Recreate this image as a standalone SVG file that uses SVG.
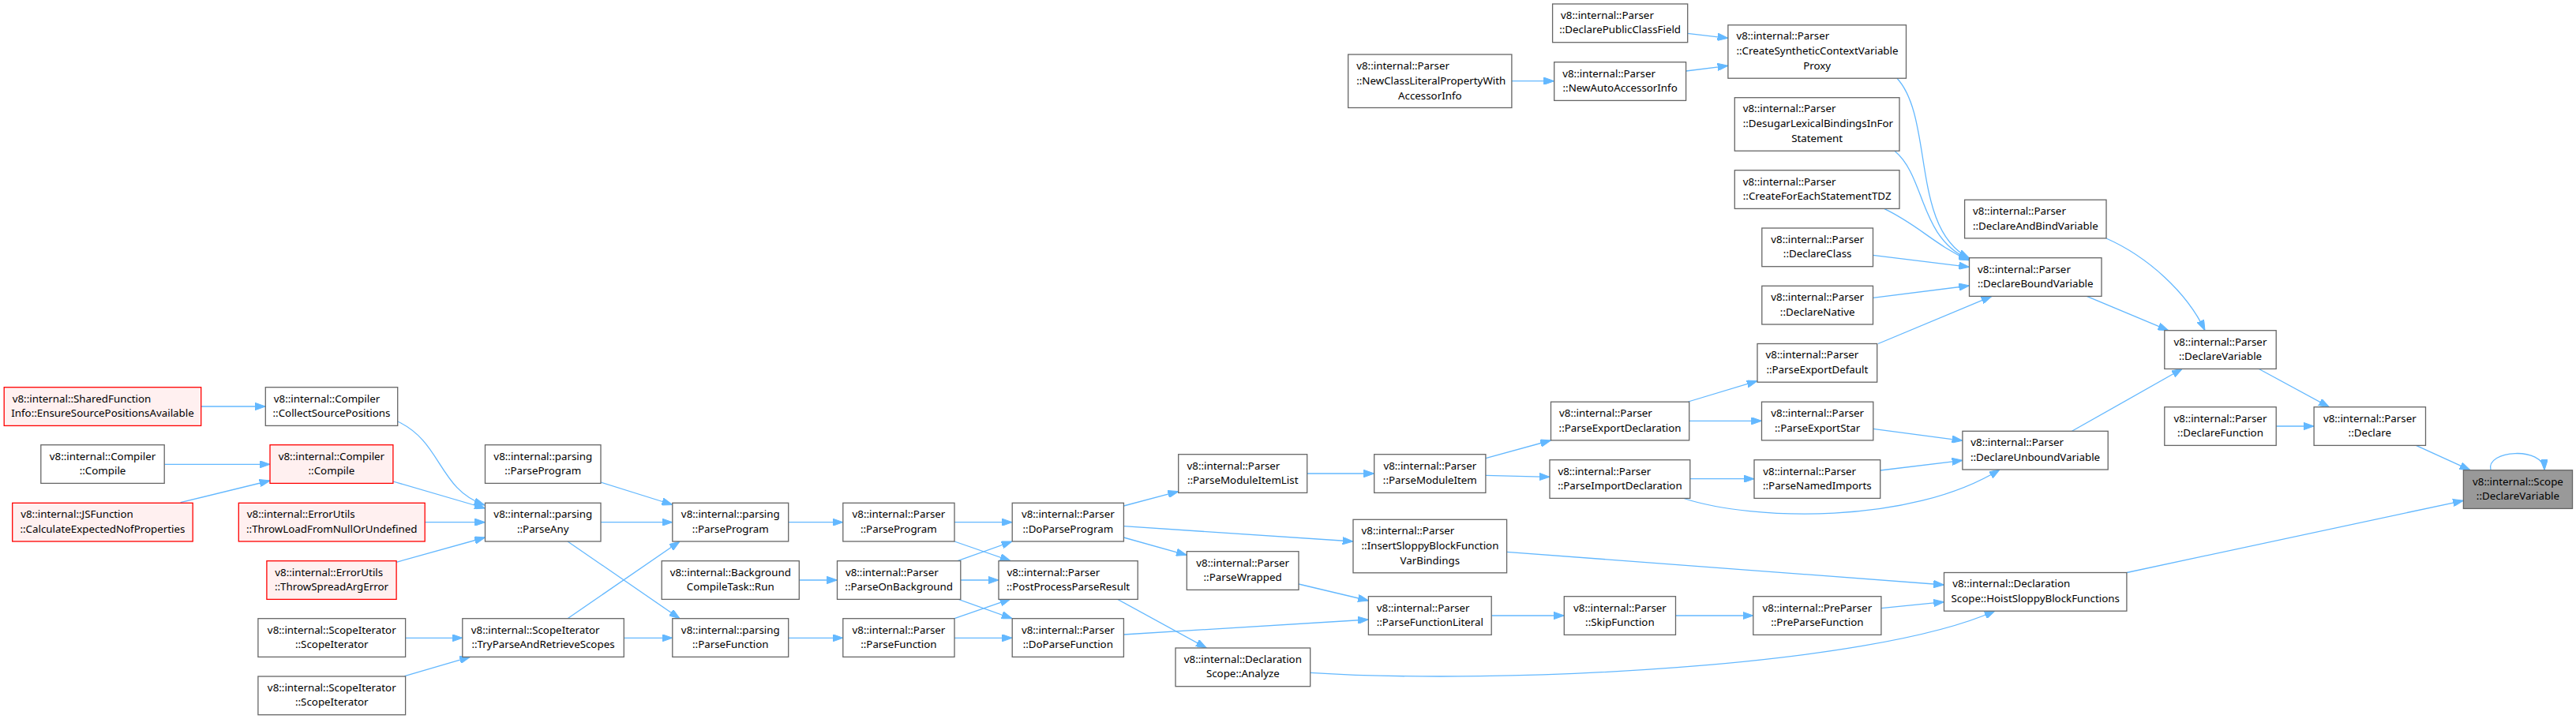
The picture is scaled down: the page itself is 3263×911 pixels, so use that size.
<svg xmlns="http://www.w3.org/2000/svg" width="3263" height="911" viewBox="0 0 3263 911">
<style>
rect{stroke-width:1.3}
.n{fill:#ffffff;stroke:#666666}
.r{fill:#fff0f0;stroke:#ff0000}
.root{fill:#999999;stroke:#666666}
text{font-family:"Noto Sans","Open Sans",sans-serif;font-size:13.33px;fill:#000000}
.m{text-anchor:middle}
.e path{fill:none;stroke:#63b8ff;stroke-width:1.3;marker-end:url(#ah)}
</style>
<defs>
<marker id="ah" markerUnits="userSpaceOnUse" viewBox="0 0 13.3 9.4" refX="13.3" refY="4.7" markerWidth="13.3" markerHeight="9.4" orient="auto">
<path d="M0,0 L13.3,4.7 L0,9.4 Z" fill="#63b8ff" stroke="#63b8ff" stroke-width="1"/>
</marker>
</defs>
<rect width="3263" height="911" fill="#ffffff"/>
<g class="e" id="edges">
<path d="M254.7,515 L336.3,515"/>
<path d="M503.7,534 C560,560 555,620 614,640"/>
<path d="M208.2,588.3 L342,588.3"/>
<path d="M228.6,636.7 L342,609"/>
<path d="M497.9,610 L614.5,644"/>
<path d="M538.2,661.7 L614.5,661.7"/>
<path d="M502.1,712.3 L614.5,681"/>
<path d="M761,611 L851.8,639.5"/>
<path d="M761,661.7 L851.8,661.7"/>
<path d="M719,686 L861,783.7"/>
<path d="M719,783.7 L861,686"/>
<path d="M790.3,808.3 L851.8,808.3"/>
<path d="M513.6,808.3 L585.8,808.3"/>
<path d="M512.5,856.7 L595.5,832.3"/>
<path d="M998.7,661.7 L1067.8,661.7"/>
<path d="M1012.3,735 L1060.5,735"/>
<path d="M998.7,808.3 L1067.8,808.3"/>
<path d="M1209,661.7 L1282.2,661.7"/>
<path d="M1209,686 L1280,710.7"/>
<path d="M1213,710.7 L1282,686"/>
<path d="M1216.8,735 L1265,735"/>
<path d="M1213,759 L1282,783.7"/>
<path d="M1209,783.7 L1280,759"/>
<path d="M1209,808.3 L1282.2,808.3"/>
<path d="M1423.4,641 L1492.7,622.7"/>
<path d="M1423.4,666.7 L1714,686"/>
<path d="M1423.4,681 L1503.3,703.3"/>
<path d="M1415,759 L1528.3,821"/>
<path d="M1423.4,804 L1733.4,785"/>
<path d="M1645,740 L1733.4,761"/>
<path d="M1655.7,600 L1740.7,600"/>
<path d="M1881.9,580.7 L1964.5,558"/>
<path d="M1881.9,602.3 L1963,604.3"/>
<path d="M2138.5,509 L2226,482.7"/>
<path d="M2139.7,533.3 L2231.5,533.3"/>
<path d="M2140.8,606.7 L2222,606.7"/>
<path d="M2133,631.5 C2220,660 2420,665 2533,595"/>
<path d="M2372.8,543.3 L2485.9,558.3"/>
<path d="M2381.7,596 L2485.9,583.3"/>
<path d="M1908.6,699.3 L2462.5,741"/>
<path d="M1889.2,780 L1981.3,780"/>
<path d="M2122.5,780 L2220.8,780"/>
<path d="M2382.9,770.7 L2462.5,762.7"/>
<path d="M1659.7,852.3 C1900,868 2370,845 2527,774"/>
<path d="M2694,725.5 L3120.4,634.3"/>
<path d="M2624.5,546.3 L2764.3,467.3"/>
<path d="M2861,467.3 L2950.4,515.7"/>
<path d="M2883.2,540 L2931.1,540"/>
<path d="M3060.4,564.3 L3129,595.7"/>
<path d="M3155,595.7 C3148,570 3222,565 3223,595.7"/>
<path d="M2643.3,375.3 L2746.7,418.7"/>
<path d="M2668,302 C2720,325 2770,370 2793,418.7"/>
<path d="M2137.7,42.3 L2188.9,48.3"/>
<path d="M2135.6,90 L2188.9,83.3"/>
<path d="M1914.9,102.7 L1968.7,102.7"/>
<path d="M2402.8,99 C2450,150 2420,290 2494.5,327"/>
<path d="M2400,191.3 C2440,225 2430,300 2494.5,329"/>
<path d="M2387,264.7 C2430,285 2450,310 2494.5,330"/>
<path d="M2372.5,323.3 L2494.5,338.3"/>
<path d="M2372.5,377.3 L2494.5,362"/>
<path d="M2379,435.5 L2523,375.3"/>
</g>
<g id="n_shared"><rect class="r" x="5.2" y="490.7" width="249.5" height="48.7"/><text x="15.7" y="509.5">v8::internal::SharedFunction</text><text class="m" x="130" y="528">Info::EnsureSourcePositionsAvailable</text></g>
<g id="n_collect"><rect class="n" x="336.3" y="490.7" width="167.4" height="48.7"/><text x="346.8" y="509.5">v8::internal::Compiler</text><text class="m" x="420" y="528">::CollectSourcePositions</text></g>
<g id="n_compileA"><rect class="n" x="51.8" y="563.7" width="156.4" height="48.7"/><text class="m" x="130" y="582.5">v8::internal::Compiler</text><text class="m" x="130" y="601">::Compile</text></g>
<g id="n_compileB"><rect class="r" x="342" y="563.7" width="155.9" height="48.7"/><text class="m" x="419.9" y="582.5">v8::internal::Compiler</text><text class="m" x="419.9" y="601">::Compile</text></g>
<g id="n_jsfunc"><rect class="r" x="15.7" y="637.3" width="228.5" height="48.7"/><text x="26.2" y="656.2">v8::internal::JSFunction</text><text class="m" x="129.95" y="674.7">::CalculateExpectedNofProperties</text></g>
<g id="n_throwload"><rect class="r" x="302.3" y="637.3" width="235.9" height="48.7"/><text x="312.8" y="656.2">v8::internal::ErrorUtils</text><text class="m" x="420.25" y="674.7">::ThrowLoadFromNullOrUndefined</text></g>
<g id="n_throwspread"><rect class="r" x="337.9" y="710.7" width="164.2" height="48.7"/><text x="348.3" y="729.5">v8::internal::ErrorUtils</text><text class="m" x="420" y="748">::ThrowSpreadArgError</text></g>
<g id="n_scopeit1"><rect class="n" x="326.9" y="783.7" width="186.7" height="48.7"/><text class="m" x="420.25" y="802.5">v8::internal::ScopeIterator</text><text class="m" x="420.25" y="821">::ScopeIterator</text></g>
<g id="n_scopeit2"><rect class="n" x="326.9" y="857" width="186.7" height="48.7"/><text class="m" x="420.25" y="875.9">v8::internal::ScopeIterator</text><text class="m" x="420.25" y="894.3">::ScopeIterator</text></g>
<g id="n_parseprogA"><rect class="n" x="614.5" y="563.7" width="146.5" height="48.7"/><text class="m" x="687.75" y="582.5">v8::internal::parsing</text><text class="m" x="687.75" y="601">::ParseProgram</text></g>
<g id="n_parseany"><rect class="n" x="614.5" y="637.3" width="146.5" height="48.7"/><text class="m" x="687.75" y="656.2">v8::internal::parsing</text><text class="m" x="687.75" y="674.7">::ParseAny</text></g>
<g id="n_tryparse"><rect class="n" x="585.8" y="783.7" width="204.5" height="48.7"/><text x="596.8" y="802.5">v8::internal::ScopeIterator</text><text class="m" x="688" y="821">::TryParseAndRetrieveScopes</text></g>
<g id="n_parseprogB"><rect class="n" x="851.8" y="637.3" width="146.9" height="48.7"/><text class="m" x="925.25" y="656.2">v8::internal::parsing</text><text class="m" x="925.25" y="674.7">::ParseProgram</text></g>
<g id="n_bgrun"><rect class="n" x="838.2" y="710.7" width="174.1" height="48.7"/><text class="m" x="925.25" y="729.5">v8::internal::Background</text><text class="m" x="925.25" y="748">CompileTask::Run</text></g>
<g id="n_parsefuncA"><rect class="n" x="851.8" y="783.7" width="146.9" height="48.7"/><text class="m" x="925.25" y="802.5">v8::internal::parsing</text><text class="m" x="925.25" y="821">::ParseFunction</text></g>
<g id="n_pparseprog"><rect class="n" x="1067.8" y="637.3" width="141.2" height="48.7"/><text class="m" x="1138.4" y="656.2">v8::internal::Parser</text><text class="m" x="1138.4" y="674.7">::ParseProgram</text></g>
<g id="n_parseonbg"><rect class="n" x="1060.5" y="710.7" width="156.3" height="48.7"/><text x="1070.9" y="729.5">v8::internal::Parser</text><text class="m" x="1138.65" y="748">::ParseOnBackground</text></g>
<g id="n_pparsefunc"><rect class="n" x="1067.8" y="783.7" width="141.2" height="48.7"/><text class="m" x="1138.4" y="802.5">v8::internal::Parser</text><text class="m" x="1138.4" y="821">::ParseFunction</text></g>
<g id="n_doparseprog"><rect class="n" x="1282.2" y="637.3" width="141.2" height="48.7"/><text class="m" x="1352.8" y="656.2">v8::internal::Parser</text><text class="m" x="1352.8" y="674.7">::DoParseProgram</text></g>
<g id="n_postprocess"><rect class="n" x="1265" y="710.7" width="176.2" height="48.7"/><text x="1275.4" y="729.5">v8::internal::Parser</text><text class="m" x="1353.1" y="748">::PostProcessParseResult</text></g>
<g id="n_doparsefunc"><rect class="n" x="1282.2" y="783.7" width="141.2" height="48.7"/><text class="m" x="1352.8" y="802.5">v8::internal::Parser</text><text class="m" x="1352.8" y="821">::DoParseFunction</text></g>
<g id="n_moditemlist"><rect class="n" x="1492.7" y="575.7" width="163" height="48.7"/><text x="1503.5" y="594.5">v8::internal::Parser</text><text class="m" x="1574.2" y="613">::ParseModuleItemList</text></g>
<g id="n_parsewrapped"><rect class="n" x="1503.3" y="698.7" width="141.7" height="48.7"/><text class="m" x="1574.15" y="717.5">v8::internal::Parser</text><text class="m" x="1574.15" y="736">::ParseWrapped</text></g>
<g id="n_analyze"><rect class="n" x="1489" y="821" width="170.7" height="48.7"/><text class="m" x="1574.35" y="839.9">v8::internal::Declaration</text><text class="m" x="1574.35" y="858.3">Scope::Analyze</text></g>
<g id="n_moditem"><rect class="n" x="1740.7" y="575.7" width="141.2" height="48.7"/><text class="m" x="1811.3" y="594.5">v8::internal::Parser</text><text class="m" x="1811.3" y="613">::ParseModuleItem</text></g>
<g id="n_exportdecl"><rect class="n" x="1964.5" y="509.2" width="175.2" height="48.7"/><text x="1975" y="528">v8::internal::Parser</text><text class="m" x="2052.1" y="546.5">::ParseExportDeclaration</text></g>
<g id="n_importdecl"><rect class="n" x="1963" y="582.7" width="177.8" height="48.7"/><text x="1973.4" y="601.5">v8::internal::Parser</text><text class="m" x="2051.9" y="620">::ParseImportDeclaration</text></g>
<g id="n_exportdefault"><rect class="n" x="2226" y="435.5" width="151.7" height="48.7"/><text x="2236.5" y="454.3">v8::internal::Parser</text><text class="m" x="2301.85" y="472.8">::ParseExportDefault</text></g>
<g id="n_exportstar"><rect class="n" x="2231.5" y="509.2" width="141.3" height="48.7"/><text class="m" x="2302.15" y="528">v8::internal::Parser</text><text class="m" x="2302.15" y="546.5">::ParseExportStar</text></g>
<g id="n_namedimports"><rect class="n" x="2222" y="582.7" width="159.7" height="48.7"/><text x="2233.3" y="601.5">v8::internal::Parser</text><text class="m" x="2301.85" y="620">::ParseNamedImports</text></g>
<g id="n_insertsloppy"><rect class="n" x="1714" y="658.3" width="194.6" height="67.5"/><text x="1724.5" y="677">v8::internal::Parser</text><text x="1724.5" y="696">::InsertSloppyBlockFunction</text><text class="m" x="1811.3" y="715">VarBindings</text></g>
<g id="n_funclit"><rect class="n" x="1733.4" y="755.7" width="155.8" height="48.7"/><text x="1743.8" y="774.5">v8::internal::Parser</text><text class="m" x="1811.3" y="793">::ParseFunctionLiteral</text></g>
<g id="n_skipfunc"><rect class="n" x="1981.3" y="755.7" width="141.2" height="48.7"/><text class="m" x="2051.9" y="774.5">v8::internal::Parser</text><text class="m" x="2051.9" y="793">::SkipFunction</text></g>
<g id="n_preparse"><rect class="n" x="2220.8" y="755.7" width="162.1" height="48.7"/><text class="m" x="2301.85" y="774.5">v8::internal::PreParser</text><text class="m" x="2301.85" y="793">::PreParseFunction</text></g>
<g id="n_declarevar"><rect class="n" x="2741.8" y="418.7" width="141.4" height="48.7"/><text class="m" x="2812.5" y="437.5">v8::internal::Parser</text><text class="m" x="2812.5" y="456">::DeclareVariable</text></g>
<g id="n_declarefunc"><rect class="n" x="2741.8" y="515.7" width="141.4" height="48.7"/><text class="m" x="2812.5" y="534.5">v8::internal::Parser</text><text class="m" x="2812.5" y="553">::DeclareFunction</text></g>
<g id="n_declare"><rect class="n" x="2931.1" y="515.7" width="141.4" height="48.7"/><text class="m" x="3001.8" y="534.5">v8::internal::Parser</text><text class="m" x="3001.8" y="553">::Declare</text></g>
<g id="n_root"><rect class="root" x="3120.4" y="595.7" width="138.1" height="48.7"/><text class="m" x="3189.45" y="614.5">v8::internal::Scope</text><text class="m" x="3189.45" y="633">::DeclareVariable</text></g>
<g id="n_unbound"><rect class="n" x="2485.9" y="546.3" width="184.3" height="48.7"/><text x="2496.3" y="565.1">v8::internal::Parser</text><text class="m" x="2578.05" y="583.6">::DeclareUnboundVariable</text></g>
<g id="n_hoist"><rect class="n" x="2462.5" y="725.5" width="231.4" height="48.7"/><text x="2473.2" y="744.3">v8::internal::Declaration</text><text class="m" x="2578.2" y="762.8">Scope::HoistSloppyBlockFunctions</text></g>
<g id="n_publicclassfield"><rect class="n" x="1966.6" y="5" width="171.1" height="48.7"/><text x="1977.1" y="23.8">v8::internal::Parser</text><text class="m" x="2052.15" y="42.3">::DeclarePublicClassField</text></g>
<g id="n_synthetic"><rect class="n" x="2188.9" y="31.7" width="225.6" height="67.5"/><text x="2199.4" y="50.4">v8::internal::Parser</text><text x="2199.4" y="69.4">::CreateSyntheticContextVariable</text><text class="m" x="2301.7" y="88.4">Proxy</text></g>
<g id="n_newclasslit"><rect class="n" x="1707.7" y="69" width="207.2" height="67.5"/><text x="1718.2" y="87.7">v8::internal::Parser</text><text x="1718.2" y="106.7">::NewClassLiteralPropertyWith</text><text class="m" x="1811.3" y="125.7">AccessorInfo</text></g>
<g id="n_newauto"><rect class="n" x="1968.7" y="78.7" width="166.9" height="48.7"/><text x="1979.2" y="97.5">v8::internal::Parser</text><text class="m" x="2052.15" y="116">::NewAutoAccessorInfo</text></g>
<g id="n_desugar"><rect class="n" x="2197.3" y="123.7" width="208.7" height="67.5"/><text x="2207.7" y="142.4">v8::internal::Parser</text><text x="2207.7" y="161.4">::DesugarLexicalBindingsInFor</text><text class="m" x="2301.65" y="180.4">Statement</text></g>
<g id="n_foreachtdz"><rect class="n" x="2197.3" y="215.7" width="208.7" height="48.7"/><text x="2207.7" y="234.5">v8::internal::Parser</text><text class="m" x="2301.65" y="253">::CreateForEachStatementTDZ</text></g>
<g id="n_declareclass"><rect class="n" x="2231.8" y="289" width="140.7" height="48.7"/><text class="m" x="2302.15" y="307.8">v8::internal::Parser</text><text class="m" x="2302.15" y="326.3">::DeclareClass</text></g>
<g id="n_declarenative"><rect class="n" x="2231.8" y="362.3" width="140.7" height="48.7"/><text class="m" x="2302.15" y="381.1">v8::internal::Parser</text><text class="m" x="2302.15" y="399.6">::DeclareNative</text></g>
<g id="n_declareandbind"><rect class="n" x="2488.6" y="253.2" width="179.4" height="48.7"/><text x="2499.1" y="272">v8::internal::Parser</text><text class="m" x="2578.3" y="290.5">::DeclareAndBindVariable</text></g>
<g id="n_declarebound"><rect class="n" x="2494.5" y="326.7" width="167.5" height="48.7"/><text x="2505.1" y="345.5">v8::internal::Parser</text><text class="m" x="2578.25" y="364">::DeclareBoundVariable</text></g>
</svg>
